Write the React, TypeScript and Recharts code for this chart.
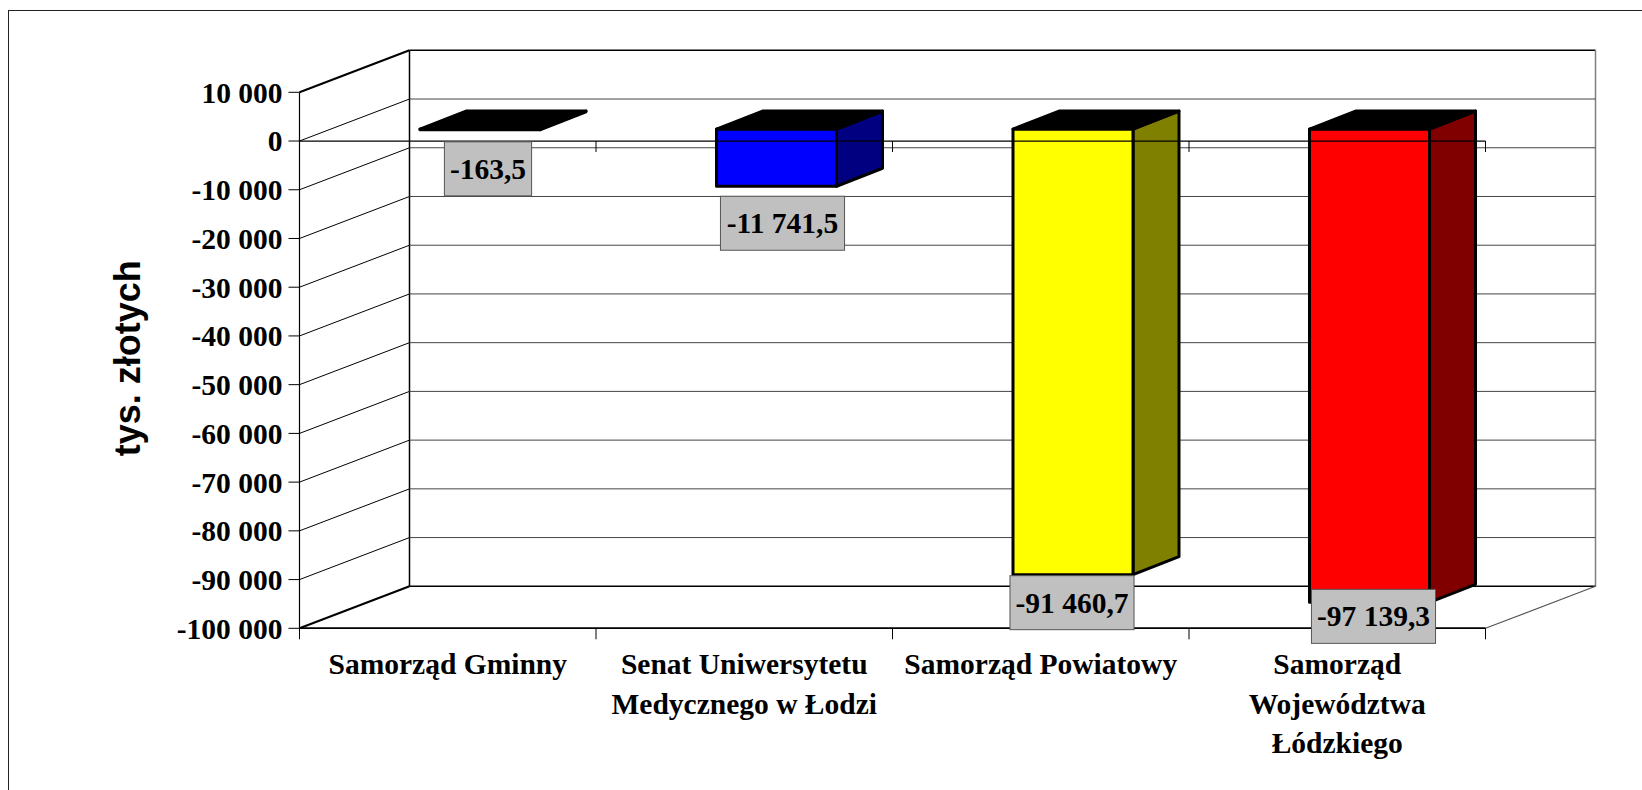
import { Bar, BarChart, CartesianGrid, LabelList, ReferenceLine, XAxis, YAxis } from "recharts";

const CATEGORIES = [
  "Samorząd Gminny",
  "Senat Uniwersytetu\nMedycznego w Łodzi",
  "Samorząd Powiatowy",
  "Samorząd\nWojewództwa\nŁódzkiego",
];
const VALUES = [-163.5, -11741.5, -91460.7, -97139.3];
const Y_TICKS = [10000, 0, -10000, -20000, -30000, -40000, -50000, -60000, -70000, -80000, -90000, -100000];
const Y_TITLE = "tys. złotych";

const FRONT_COLORS = ["#9999ff", "#0000ff", "#ffff00", "#ff0000"];
const SIDE_COLORS = ["#4c4c80", "#000080", "#808000", "#800000"];
// excel nudged the data labels a bit differently per bar
const LABEL_DX = [8, 6, -1, 4];
const LABEL_DY = [27, 25, 16, 2];

const data = CATEGORIES.map((name, i) => ({ name, value: VALUES[i] }));

const W = 1642;
const H = 790;
const PLOT_LEFT = 299.5;
const PLOT_TOP = 92.3;
const PLOT_RIGHT = 1485.5;
const PLOT_BOTTOM = 628.3;
const Y_AXIS_W = 130;
const X_AXIS_H = 130;

// fake 3d: back wall offset and bar placement in depth
const WALL_DX = 110;
const WALL_DY = -42;
const BAR_DX = 32.5;
const BAR_DY = -12;
const DEPTH_DX = 46;
const DEPTH_DY = -18;

const SERIF = "'Liberation Serif', 'Times New Roman', serif";
const FONT = 29.5;

const groupThousands = (s: string) => s.replace(/\B(?=(\d{3})+(?!\d))/g, " ");
const fmtTick = (v: number) => (v < 0 ? "-" : "") + groupThousands(String(Math.abs(v)));
const fmtLabel = (v: number) => {
  const [int, dec] = Math.abs(v).toFixed(1).split(".");
  return (v < 0 ? "-" : "") + groupThousands(int) + "," + dec;
};
const textWidth = (s: string) =>
  s.split("").reduce((w, c) => w + (c === " " || c === "," ? 0.25 : c === "-" ? 0.333 : 0.5), 0) * FONT;

const BackGridLine = (p: any) => {
  const { x1, x2, y1 } = p;
  const yb = y1 + WALL_DY;
  const isTop = Math.abs(y1 - PLOT_TOP) < 1;
  const isBottom = Math.abs(y1 - PLOT_BOTTOM) < 1;
  const edge = isTop || isBottom;
  return (
    <g>
      <line x1={x1} y1={y1} x2={x1 + WALL_DX} y2={yb} stroke="#000" strokeWidth={edge ? 2 : 1} />
      <line x1={x1 + WALL_DX} y1={yb} x2={x2 + WALL_DX} y2={yb} stroke={edge ? "#000" : "#444"} strokeWidth={edge ? 1.5 : 1} />
      {isTop && (
        <>
          <line x1={x1 + WALL_DX} y1={yb} x2={x1 + WALL_DX} y2={PLOT_BOTTOM + WALL_DY} stroke="#000" strokeWidth={1.5} />
          <line x1={x2 + WALL_DX} y1={yb} x2={x2 + WALL_DX} y2={PLOT_BOTTOM + WALL_DY} stroke="#808080" strokeWidth={1.5} />
        </>
      )}
    </g>
  );
};

const boundaryTicks = (x1: number, x2: number, y: number, from: number) => {
  const n = CATEGORIES.length;
  const out = [];
  for (let k = from; k <= n; k++) {
    const x = x1 + ((x2 - x1) * k) / n;
    out.push(<line key={k} x1={x} y1={y} x2={x} y2={y + 11} stroke="#000" strokeWidth={1} />);
  }
  return out;
};

const ZeroLine = (p: any) => (
  <g>
    <line x1={p.x1} y1={p.y1} x2={p.x2} y2={p.y1} stroke="#000" strokeWidth={1.2} />
    {boundaryTicks(p.x1, p.x2, p.y1, 1)}
  </g>
);

const FloorLine = (p: any) => (
  <g>
    <line x1={p.x1} y1={p.y1} x2={p.x2} y2={p.y1} stroke="#000" strokeWidth={1.5} />
    <line x1={p.x2} y1={p.y1} x2={p.x2 + WALL_DX} y2={p.y1 + WALL_DY} stroke="#555" strokeWidth={1.2} />
    {boundaryTicks(p.x1, p.x2, p.y1, 0)}
  </g>
);

const Bar3D = (p: any) => {
  const { x, y, width, height } = p;
  const i = p.index ?? 0;
  const top = Math.min(y, y + height) + BAR_DY;
  const bot = Math.max(y, y + height) + BAR_DY;
  const l = x + BAR_DX;
  const r = l + width;
  const stroke = { stroke: "#000", strokeWidth: 3, strokeLinejoin: "round" as const };
  return (
    <g>
      <polygon
        points={`${r},${top} ${r + DEPTH_DX},${top + DEPTH_DY} ${r + DEPTH_DX},${bot + DEPTH_DY} ${r},${bot}`}
        fill={SIDE_COLORS[i]}
        {...stroke}
      />
      <rect x={l} y={top} width={width} height={Math.max(bot - top, 0.5)} fill={FRONT_COLORS[i]} {...stroke} />
      <polygon
        points={`${l},${top} ${l + DEPTH_DX},${top + DEPTH_DY} ${r + DEPTH_DX},${top + DEPTH_DY} ${r},${top}`}
        fill="#000"
        {...stroke}
      />
    </g>
  );
};

const ValueLabel = (p: any) => {
  const vb = p.viewBox ?? p;
  const i = p.index ?? 0;
  const bottom = Math.max(vb.y, vb.y + vb.height);
  const cx = vb.x + vb.width / 2 + BAR_DX + LABEL_DX[i];
  const cy = bottom + LABEL_DY[i];
  const text = fmtLabel(VALUES[i]);
  const w = textWidth(text) + 11;
  const h = 54;
  return (
    <g>
      <rect x={cx - w / 2} y={cy - h / 2} width={w} height={h} fill="#c0c0c0" stroke="#555" strokeWidth={1} />
      <text x={cx} y={cy} dy="0.34em" textAnchor="middle" fontFamily={SERIF} fontWeight={700} fontSize={FONT} fill="#000">
        {text}
      </text>
    </g>
  );
};

const CategoryTick = (p: any) => {
  const lines = String(p.payload.value).split("\n");
  return (
    <text x={p.x} y={p.y} textAnchor="middle" fontFamily={SERIF} fontWeight={700} fontSize={FONT} fill="#000">
      {lines.map((line, i) => (
        <tspan key={i} x={p.x} y={p.y + 45.7 + i * 39.5}>
          {line}
        </tspan>
      ))}
    </text>
  );
};

const YTitle = (p: any) => {
  const vb = p.viewBox;
  const x = vb.x - 29.5;
  const y = vb.y + vb.height / 2 - 2;
  return (
    <text
      x={x}
      y={y}
      transform={`rotate(-90, ${x}, ${y})`}
      textAnchor="middle"
      fontFamily="'Liberation Sans', Arial, sans-serif"
      fontWeight={700}
      fontSize={36}
      fill="#000"
    >
      {Y_TITLE}
    </text>
  );
};

export default function App() {
  return (
    <div style={{ position: "absolute", left: 0, top: 0, width: W, height: H, overflow: "hidden", background: "#fff" }}>
      <div
        style={{
          position: "absolute",
          left: 8,
          top: 10,
          width: W,
          height: H,
          borderLeft: "1.5px solid #222",
          borderTop: "1.5px solid #222",
        }}
      />
      <BarChart
        width={W}
        height={H}
        data={data}
        margin={{
          top: PLOT_TOP,
          right: W - PLOT_RIGHT,
          left: PLOT_LEFT - Y_AXIS_W,
          bottom: H - PLOT_BOTTOM - X_AXIS_H,
        }}
      >
        <CartesianGrid vertical={false} horizontal={(p: any) => <BackGridLine key={p.key ?? p.index} {...p} />} />
        <XAxis
          dataKey="name"
          height={X_AXIS_H}
          interval={0}
          tickLine={false}
          tickSize={0}
          tickMargin={0}
          axisLine={{ stroke: "#000", strokeWidth: 1.5 }}
          tick={(p: any) => <CategoryTick {...p} />}
        />
        <YAxis
          type="number"
          domain={[-100000, 10000]}
          ticks={Y_TICKS}
          interval={0}
          allowDataOverflow
          width={Y_AXIS_W}
          tickSize={11}
          tickMargin={6}
          tickFormatter={fmtTick}
          axisLine={{ stroke: "#000", strokeWidth: 1.2 }}
          tickLine={{ stroke: "#000" }}
          tick={{ fill: "#000", fontSize: FONT, fontWeight: 700, fontFamily: SERIF }}
          label={(p: any) => <YTitle {...p} />}
        />
        <Bar dataKey="value" barSize={120} shape={(p: any) => <Bar3D {...p} />} isAnimationActive={false}>
          <LabelList dataKey="value" content={(p: any) => <ValueLabel {...p} />} />
        </Bar>
        <ReferenceLine y={0} shape={(p: any) => <ZeroLine {...p} />} />
        <ReferenceLine y={-100000} shape={(p: any) => <FloorLine {...p} />} />
      </BarChart>
    </div>
  );
}
